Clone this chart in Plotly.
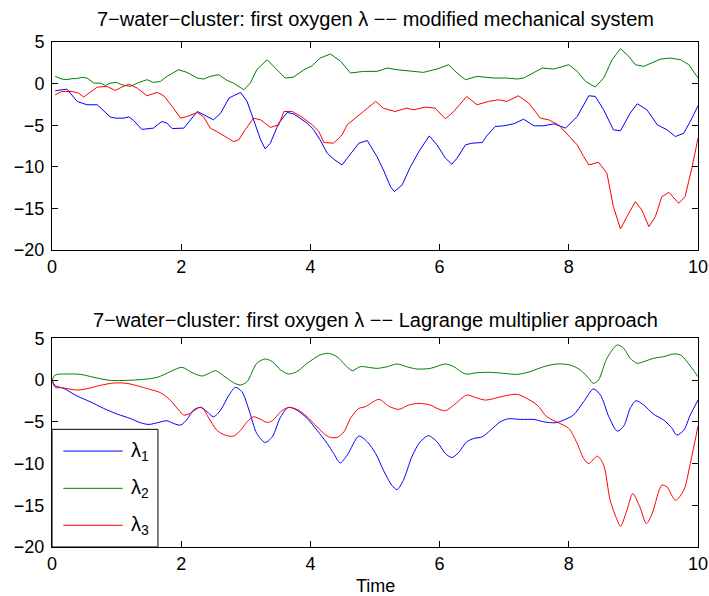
import plotly.graph_objects as go

# ---------------- data ----------------
# Top panel: modified mechanical system
top_l1_t = [0.05,0.23,0.39,0.54,0.70,0.90,0.98,1.11,1.19,1.26,1.39,1.57,1.70,1.78,1.86,2.04,2.25,2.37,2.50,2.61,2.74,2.81,2.92,3.02,3.12,3.23,3.30,3.38,3.51,3.64,3.74,3.85,3.95,4.05,4.15,4.26,4.36,4.49,4.59,4.75,4.88,5.03,5.13,5.24,5.30,5.42,5.55,5.68,5.84,5.96,6.09,6.19,6.27,6.40,6.50,6.66,6.73,6.86,6.99,7.15,7.30,7.46,7.61,7.77,7.95,8.13,8.31,8.41,8.54,8.69,8.80,8.95,9.06,9.21,9.37,9.52,9.65,9.78,9.88,10.0]
top_l1 = [-0.86,-0.66,-2.14,-2.54,-2.54,-4.0,-4.15,-4.15,-4.0,-4.4,-5.5,-5.35,-4.55,-4.75,-5.4,-5.35,-3.35,-3.87,-4.35,-3.55,-1.74,-1.46,-1.06,-2.14,-4.35,-6.76,-7.84,-7.16,-4.75,-3.47,-3.63,-4.27,-4.75,-5.55,-6.76,-8.36,-9.08,-9.77,-8.76,-7.16,-6.84,-8.76,-10.37,-12.38,-12.98,-12.17,-9.97,-8.16,-6.28,-7.36,-8.96,-9.69,-8.96,-7.36,-7.16,-7.08,-6.28,-5.15,-5.07,-4.83,-4.27,-5.07,-5.07,-4.83,-5.35,-3.95,-1.46,-1.54,-3.15,-5.55,-5.67,-3.55,-2.42,-3.15,-4.95,-5.55,-6.36,-5.96,-4.55,-2.66]

top_l2_t = [0.05,0.15,0.23,0.31,0.38,0.46,0.54,0.65,0.75,0.83,0.90,1.0,1.08,1.21,1.32,1.47,1.57,1.68,1.78,1.88,1.96,2.09,2.25,2.35,2.45,2.58,2.71,2.81,2.97,3.07,3.17,3.33,3.48,3.61,3.74,3.90,4.03,4.15,4.31,4.47,4.62,4.82,5.03,5.19,5.34,5.55,5.75,5.96,6.14,6.27,6.40,6.58,6.84,7.04,7.20,7.30,7.46,7.59,7.77,8.0,8.13,8.26,8.41,8.54,8.67,8.80,8.93,9.03,9.16,9.29,9.42,9.57,9.73,9.86,10.0]
top_l2 = [0.87,0.55,0.47,0.6,0.6,0.75,0.67,0.06,0.06,-0.22,0.06,0.14,-0.14,-0.34,0.06,0.47,0.14,0.26,0.87,1.27,1.67,1.35,0.67,0.55,0.87,1.07,0.39,0.06,-0.74,0.06,1.67,2.87,1.75,0.67,0.79,1.67,2.15,3.07,3.56,2.67,1.27,1.47,1.47,1.87,1.67,1.47,1.35,1.75,2.27,1.27,0.47,0.87,0.67,0.67,0.55,0.67,1.35,1.87,1.75,2.27,1.47,0.27,-0.42,0.67,2.87,4.2,3.27,2.27,2.07,2.55,2.95,3.07,2.87,2.27,0.67]

top_l3_t = [0.05,0.15,0.31,0.41,0.49,0.59,0.70,0.85,0.98,1.08,1.19,1.32,1.47,1.63,1.73,1.86,1.99,2.09,2.25,2.35,2.45,2.55,2.71,2.81,2.89,2.99,3.12,3.23,3.38,3.51,3.59,3.72,3.87,4.03,4.13,4.21,4.36,4.49,4.57,4.72,4.82,5.01,5.13,5.31,5.49,5.60,5.78,5.93,6.09,6.22,6.42,6.58,6.76,6.91,7.04,7.22,7.38,7.56,7.69,7.84,8.0,8.13,8.23,8.31,8.46,8.59,8.69,8.80,8.90,9.03,9.13,9.24,9.34,9.44,9.55,9.70,9.80,9.91,10.0]
top_l3 = [-1.34,-0.94,-0.94,-1.14,-1.62,-1.06,-0.42,-0.34,-0.82,-0.42,-0.06,-0.54,-1.46,-1.06,-1.46,-2.74,-4.15,-3.95,-3.47,-4.03,-5.35,-5.75,-6.56,-6.96,-6.76,-5.55,-4.15,-4.35,-5.27,-4.95,-3.35,-3.35,-4.03,-4.95,-5.75,-7.08,-7.16,-6.16,-4.95,-3.95,-3.35,-2.14,-2.95,-3.35,-2.95,-3.15,-2.82,-2.95,-4.23,-3.35,-1.54,-2.54,-2.14,-1.94,-2.14,-1.46,-2.34,-4.15,-4.35,-4.95,-6.28,-7.36,-8.76,-9.77,-9.45,-10.77,-14.78,-17.47,-15.98,-14.18,-15.18,-17.19,-15.98,-13.58,-13.06,-14.38,-13.58,-9.97,-6.56]

# Bottom panel: Lagrange multiplier approach
bot_l1_t = [0,0.05,0.18,0.39,0.59,0.80,1.01,1.21,1.37,1.50,1.63,1.78,1.88,1.99,2.09,2.19,2.30,2.40,2.50,2.61,2.74,2.84,2.94,3.05,3.17,3.30,3.41,3.54,3.66,3.79,3.95,4.10,4.26,4.36,4.46,4.57,4.75,4.88,5.01,5.13,5.26,5.34,5.44,5.57,5.70,5.83,5.96,6.09,6.19,6.29,6.42,6.53,6.66,6.79,6.94,7.07,7.25,7.46,7.61,7.79,7.92,8.07,8.23,8.38,8.49,8.62,8.75,8.85,8.95,9.04,9.16,9.31,9.47,9.60,9.67,9.78,9.88,10.0]
bot_l1 = [0,-0.68,-1.0,-1.92,-2.6,-3.4,-4.08,-4.6,-5.12,-5.32,-5.12,-4.88,-5.2,-5.4,-4.72,-3.6,-3.28,-3.8,-4.4,-3.6,-1.8,-0.88,-1.4,-3.6,-6.4,-7.48,-6.8,-4.4,-3.28,-3.6,-4.6,-6.0,-7.6,-8.8,-9.92,-9.0,-6.72,-7.4,-8.8,-10.8,-12.6,-13.12,-12.0,-9.2,-7.4,-6.68,-7.4,-8.8,-9.28,-8.72,-7.4,-7.0,-6.8,-6.0,-5.0,-4.64,-4.72,-4.72,-5.0,-5.12,-4.8,-4.2,-2.6,-1.08,-1.8,-4.4,-6.12,-5.52,-3.4,-2.48,-3.0,-4.08,-4.8,-5.8,-6.6,-6.0,-4.2,-2.4]

bot_l2_t = [0,0.05,0.23,0.44,0.65,0.90,1.16,1.42,1.63,1.83,2.01,2.17,2.32,2.43,2.53,2.66,2.81,2.92,3.02,3.17,3.30,3.41,3.54,3.66,3.79,3.95,4.15,4.28,4.41,4.54,4.65,4.77,5.03,5.19,5.34,5.49,5.65,5.86,6.09,6.22,6.40,6.58,6.79,6.99,7.20,7.40,7.61,7.82,8.02,8.18,8.31,8.38,8.46,8.59,8.75,8.85,8.95,9.06,9.16,9.31,9.47,9.62,9.73,9.83,10.0]
bot_l2 = [0,0.6,0.72,0.68,0.32,-0.04,-0.04,0.08,0.32,1.0,1.52,0.88,0.48,0.8,1.12,0.48,-0.32,-0.6,-0.2,2.0,2.52,2.2,1.2,0.72,1.0,2.0,3.0,3.2,2.8,1.8,1.12,1.6,1.4,1.6,1.92,1.6,1.32,1.4,1.92,1.6,0.72,0.88,0.92,0.8,0.68,1.0,1.6,1.92,1.8,1.2,0.2,-0.4,0.0,2.6,4.2,3.8,2.6,2.0,2.2,2.6,2.8,3.12,3.0,2.2,0.4]

bot_l3_t = [0,0.05,0.15,0.39,0.54,0.75,0.95,1.16,1.37,1.55,1.68,1.83,1.96,2.04,2.14,2.25,2.32,2.43,2.55,2.68,2.81,2.92,3.02,3.12,3.23,3.33,3.41,3.54,3.66,3.79,3.95,4.10,4.28,4.41,4.52,4.62,4.75,4.85,5.06,5.21,5.37,5.52,5.68,5.86,5.96,6.09,6.22,6.42,6.55,6.71,6.89,7.07,7.20,7.35,7.51,7.66,7.84,8.0,8.13,8.23,8.31,8.44,8.54,8.64,8.75,8.80,8.90,8.99,9.10,9.20,9.29,9.44,9.52,9.65,9.78,9.88,10.0]
bot_l3 = [0,-0.88,-0.92,-1.2,-1.04,-0.64,-0.36,-0.4,-0.8,-1.2,-1.52,-2.4,-3.6,-4.2,-4.0,-3.4,-3.28,-4.6,-6.0,-6.6,-6.72,-6.0,-5.0,-4.4,-4.72,-5.08,-4.88,-3.8,-3.28,-3.52,-4.4,-5.6,-6.8,-6.88,-6.2,-4.6,-3.4,-3.2,-2.32,-3.12,-3.52,-3.0,-2.8,-3.0,-3.4,-3.68,-3.0,-1.8,-2.08,-2.4,-2.12,-1.8,-1.72,-2.2,-3.0,-4.4,-5.12,-5.8,-7.6,-9.4,-10.0,-9.12,-10.2,-14.4,-16.8,-17.52,-15.6,-13.6,-15.2,-17.2,-16.0,-12.6,-12.8,-14.4,-13.2,-10.0,-5.52]

x_ticks = [0, 2, 4, 6, 8, 10]
y_ticks = [5, 0, -5, -10, -15, -20]
series_names = ["λ<sub>1</sub>", "λ<sub>2</sub>", "λ<sub>3</sub>"]
series_colors = ["#0000ff", "#008000", "#ff0000"]
titles = ["7\u2212water\u2212cluster: first oxygen λ \u2212\u2212 modified mechanical system",
          "7\u2212water\u2212cluster: first oxygen λ \u2212\u2212 Lagrange multiplier approach"]
x_label = "Time"

FONT = "Liberation Sans, Arial, Helvetica, sans-serif"

fig = go.Figure()

top = [(top_l1_t, top_l1), (top_l2_t, top_l2), (top_l3_t, top_l3)]
bot = [(bot_l1_t, bot_l1), (bot_l2_t, bot_l2), (bot_l3_t, bot_l3)]
for (t, v), c in zip(top, series_colors):
    fig.add_trace(go.Scatter(x=t, y=v, mode="lines", line=dict(color=c, width=1),
                             xaxis="x", yaxis="y", showlegend=False))
for (t, v), c in zip(bot, series_colors):
    fig.add_trace(go.Scatter(x=t, y=v, mode="lines",
                             line=dict(color=c, width=1, shape="spline", smoothing=0.8),
                             xaxis="x2", yaxis="y2", showlegend=False))

axis_common = dict(showline=True, linecolor="black", linewidth=1, mirror="allticks",
                   ticks="inside", ticklen=6, tickcolor="black", showgrid=False,
                   zeroline=False, automargin=False,
                   tickfont=dict(family=FONT, size=18, color="black"))

fig.update_layout(
    width=709, height=596,
    paper_bgcolor="white", plot_bgcolor="white",
    margin=dict(l=52, r=11, t=42, b=49, autoexpand=False),
    showlegend=False,
    xaxis=dict(domain=[0, 1], range=[0, 10], tickvals=x_ticks, anchor="y", **axis_common),
    yaxis=dict(domain=[0.588, 1], range=[-20, 5], tickvals=y_ticks, anchor="x",
               ticklabelstandoff=3, **axis_common),
    xaxis2=dict(domain=[0, 1], range=[0, 10], tickvals=x_ticks, anchor="y2", **axis_common),
    yaxis2=dict(domain=[0, 0.4133], range=[-20, 5], tickvals=y_ticks, anchor="x2",
                ticklabelstandoff=3, **axis_common),
)

ann = []
ann.append(dict(text=titles[0], x=0.5, y=1.0455, xref="paper", yref="paper",
                xanchor="center", yanchor="middle", showarrow=False,
                font=dict(family=FONT, size=20, color="black")))
ann.append(dict(text=titles[1], x=0.5, y=0.4495, xref="paper", yref="paper",
                xanchor="center", yanchor="middle", showarrow=False,
                font=dict(family=FONT, size=20, color="black")))
ann.append(dict(text=x_label, x=0.5, y=-0.077, xref="paper", yref="paper",
                xanchor="center", yanchor="middle", showarrow=False,
                font=dict(family=FONT, size=18, color="black")))

# manual MATLAB-like legend box in the lower panel
shapes = [dict(type="rect", xref="paper", yref="paper", x0=0, x1=0.164, y0=0, y1=0.233,
               line=dict(color="black", width=1), fillcolor="white", layer="above")]
leg_y = [0.190, 0.1162, 0.043]
for ly, c, name in zip(leg_y, series_colors, series_names):
    shapes.append(dict(type="line", xref="paper", yref="paper", x0=0.0175, x1=0.1094,
                       y0=ly, y1=ly, line=dict(color=c, width=1), layer="above"))
    ann.append(dict(text=name, x=0.1197, y=ly, xref="paper", yref="paper",
                    xanchor="left", yanchor="middle", showarrow=False,
                    font=dict(family=FONT, size=20, color="black")))

fig.update_layout(annotations=ann, shapes=shapes)
fig.write_html(
    "out.html",
    config={"displayModeBar": False},
    post_script="document.body.style.margin='0';document.body.style.padding='0';"
                "document.body.style.overflow='hidden';",
)
